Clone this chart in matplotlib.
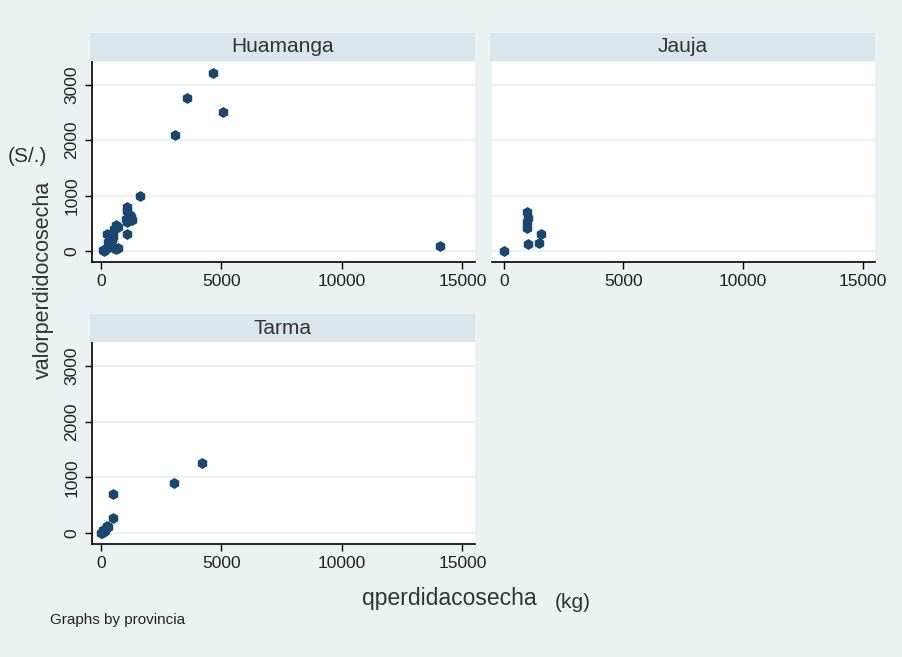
import matplotlib
matplotlib.use("Agg")
import matplotlib.pyplot as plt
import numpy as np

plt.rcParams['font.family'] = ['Liberation Sans', 'DejaVu Sans']

# data (qperdidacosecha in kg, valorperdidocosecha in S/.)
huamanga_q = [4670, 3580, 5070, 3090, 1620, 14050, 1090, 1100, 1215, 1255, 1300,
              1077, 1090, 1050, 634, 700, 560, 490, 520, 400, 300, 350, 150, 200,
              100, 560, 650, 700, 250, 450]
huamanga_v = [3220, 2760, 2500, 2100, 990, 80, 800, 720, 640, 620, 560,
              520, 310, 580, 460, 430, 400, 330, 260, 240, 160, 100, 0, 40,
              20, 50, 40, 60, 300, 200]

jauja_q = [0, 980, 980, 980, 990, 1560, 1460, 1000]
jauja_v = [0, 700, 520, 420, 120, 300, 140, 600]

tarma_q = [4210, 3030, 515, 500, 250, 110, 40, 180, 0, 300, 80]
tarma_v = [1250, 890, 690, 275, 130, 60, 0, 30, -5, 100, 20]

provincias = ["Huamanga", "Jauja", "Tarma"]
xticks = [0, 5000, 10000, 15000]
yticks = [0, 1000, 2000, 3000]

bg = "#eaf2f3"
header = "#d9e6eb"
marker = "#1a476f"
grid = "#eaf2f3"

W, H = 903, 657
fig = plt.figure(figsize=(W / 100, H / 100), dpi=100, facecolor=bg)


def px(l, t, r, b):
    return [l / W, 1 - b / H, (r - l) / W, (b - t) / H]


panels = {
    "Huamanga": (91.7, 61, 475, 262, True),
    "Jauja": (491.7, 61, 875, 262, False),
    "Tarma": (91.7, 342, 475, 544, True),
}
data = {
    "Huamanga": (huamanga_q, huamanga_v),
    "Jauja": (jauja_q, jauja_v),
    "Tarma": (tarma_q, tarma_v),
}

for name in provincias:
    l, t, r, b, yaxis = panels[name]
    ax = fig.add_axes(px(l, t, r, b))
    ax.set_facecolor("white")
    q, v = data[name]
    ax.scatter(q, v, s=62, color=marker, zorder=3, linewidths=0, marker="h")
    ax.set_xlim(-375 if yaxis else -510, 15520)
    ax.set_ylim(-200, 3430)
    for yy in yticks:
        ax.axhline(yy, color=grid, lw=1.5, zorder=1)
    ax.set_xticks(xticks)
    ax.set_xticklabels([str(x) for x in xticks], fontsize=12.5, color="#222222")
    ax.tick_params(axis="x", length=5, width=1, pad=4)
    for s in ["top", "right"]:
        ax.spines[s].set_visible(False)
    ax.spines["bottom"].set_linewidth(1.2)
    if yaxis:
        ax.spines["left"].set_linewidth(1.2)
        ax.set_yticks(yticks)
        ax.set_yticklabels([str(y) for y in yticks], fontsize=12.5,
                           color="#222222", rotation=90, va="center")
        ax.tick_params(axis="y", length=5, width=1, pad=4)
    else:
        ax.spines["left"].set_visible(False)
        ax.set_yticks([])
    # panel header strip
    hx = fig.add_axes(px(l - 1.5, t - 28, r, t))
    hx.set_facecolor(header)
    hx.set_xticks([])
    hx.set_yticks([])
    for s in hx.spines.values():
        s.set_visible(False)
    hx.text(0.5, 0.5, name, ha="center", va="center", fontsize=15,
            color="#333333", transform=hx.transAxes)

fig.text(43 / W, 1 - 280 / H, "valorperdidocosecha", rotation=90,
         ha="center", va="center", fontsize=15.5, color="#333333")
fig.text(8 / W, 1 - 157 / H, "(S/.)", ha="left", va="center",
         fontsize=15, color="#333333")
fig.text(449 / W, 1 - 599 / H, "qperdidacosecha", ha="center", va="center",
         fontsize=16.5, color="#333333")
fig.text(555 / W, 1 - 603 / H, "(kg)", ha="left", va="center",
         fontsize=15, color="#333333")
fig.text(50 / W, 1 - 620 / H, "Graphs by provincia", ha="left", va="center",
         fontsize=11, color="#222222")

fig.savefig("out.png", dpi=100, facecolor=bg)
